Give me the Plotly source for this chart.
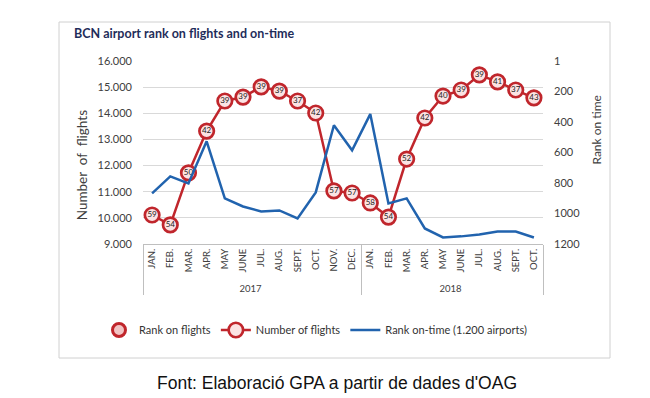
import plotly.graph_objects as go

years = ["2017"] * 12 + ["2018"] * 10
months = ["JAN.", "FEB.", "MAR.", "APR.", "MAY", "JUNE", "JUL.", "AUG.", "SEPT.", "OCT.", "NOV.", "DEC.",
          "JAN.", "FEB.", "MAR.", "APR.", "MAY", "JUNE", "JUL.", "AUG.", "SEPT.", "OCT."]
flights = [10110, 9730, 11720, 13320, 14470, 14620, 15010, 14850, 14470, 14010, 11030, 10950,
           10570, 10030, 12250, 13820, 14660, 14890, 15470, 15200, 14890, 14590]
rank_flights = [59, 54, 50, 42, 39, 39, 39, 39, 37, 42, 57, 57, 58, 54, 52, 42, 40, 39, 39, 41, 37, 43]
rank_ontime = [868, 757, 803, 527, 901, 954, 987, 980, 1033, 862, 422, 586,
               349, 934, 901, 1098, 1157, 1150, 1138, 1118, 1118, 1157]

left_ticks = [9000, 10000, 11000, 12000, 13000, 14000, 15000, 16000]
left_text = ["9.000", "10.000", "11.000", "12.000", "13.000", "14.000", "15.000", "16.000"]
right_ticks = [1, 200, 400, 600, 800, 1000, 1200]
right_text = ["1", "200", "400", "600", "800", "1000", "1200"]

RED = "#C0262C"
BLUE = "#2163AE"
FONT = "Lato"

fig = go.Figure()
x = [years, months]

fig.add_trace(go.Scatter(
    x=x, y=rank_ontime, yaxis="y2", mode="lines",
    line=dict(color=BLUE, width=2.5), name="Rank on-time (1.200 airports)"))

fig.add_trace(go.Scatter(
    x=x, y=flights, mode="lines+markers+text",
    text=[str(v) for v in rank_flights], textposition="middle center",
    textfont=dict(family=FONT, size=8, color="#222222"),
    line=dict(color=RED, width=2.5),
    marker=dict(size=14.5, color="#FBE3E3", line=dict(color=RED, width=2.7)),
    name="Number of flights"))

fig.add_trace(go.Scatter(
    x=[None], y=[None], mode="markers",
    marker=dict(size=13, color="#F2C4C4", line=dict(color=RED, width=3)),
    name="Rank on flights"))

# page body has an 8px margin; compensate so the plot lands where the reference has it
fig.update_layout(
    width=642, height=390,
    margin=dict(l=135, r=107, t=53, b=154),
    paper_bgcolor="white", plot_bgcolor="white",
    font=dict(family=FONT, size=11, color="#404040"),
    showlegend=True,
    legend=dict(orientation="h", x=-0.11, xanchor="left", y=-0.47, yanchor="middle",
                font=dict(family=FONT, size=11, color="#333333"),
                traceorder="reversed", itemwidth=30, tracegroupgap=0),
    xaxis=dict(type="multicategory", tickangle=-90, showgrid=False,
               showline=True, linecolor="#BFBFBF", linewidth=1,
               showdividers=True, dividercolor="#BFBFBF", dividerwidth=1,
               tickfont=dict(family=FONT, size=9.5, color="#404040"),
               range=[-0.5, 21.5]),
    yaxis=dict(range=[9000, 16000], tickvals=left_ticks, ticktext=left_text,
               showgrid=True, gridcolor="#D9D9D9", gridwidth=1, zeroline=False,
               showline=False, ticklabelstandoff=10,
               tickfont=dict(family=FONT, size=11, color="#404040")),
    yaxis2=dict(range=[1200, 1], tickvals=right_ticks, ticktext=right_text,
                overlaying="y", side="right", showgrid=False, zeroline=False,
                showline=False, ticklabelstandoff=10,
                tickfont=dict(family=FONT, size=11, color="#404040")),
)

fig.add_shape(type="rect", xref="paper", yref="paper",
              x0=-0.21, x1=1.1675, y0=-0.623, y1=1.213,
              line=dict(color="#D0D0D0", width=1), layer="below")

fig.add_annotation(text="<b>BCN airport rank on flights and on-time</b>", xref="paper", yref="paper",
                   x=-0.1775, y=1.153, xanchor="left", yanchor="middle", showarrow=False,
                   font=dict(family=FONT, size=12.5, color="#1F2D5A"))
fig.add_annotation(text="Number  of  flights", xref="paper", yref="paper",
                   x=-0.1525, y=0.43, xanchor="center", yanchor="middle", textangle=-90, showarrow=False,
                   font=dict(family=FONT, size=13.5, color="#404040"))
fig.add_annotation(text="Rank on time", xref="paper", yref="paper",
                   x=1.135, y=0.62, xanchor="center", yanchor="middle", textangle=-90, showarrow=False,
                   font=dict(family=FONT, size=12, color="#404040"))
fig.add_annotation(text="Font: Elaboració GPA a partir de dades d'OAG", xref="paper", yref="paper",
                   x=0.485, y=-0.76, xanchor="center", yanchor="middle", showarrow=False,
                   font=dict(family="Liberation Sans", size=17.5, color="#111111"))

fig.write_html("out.html")
